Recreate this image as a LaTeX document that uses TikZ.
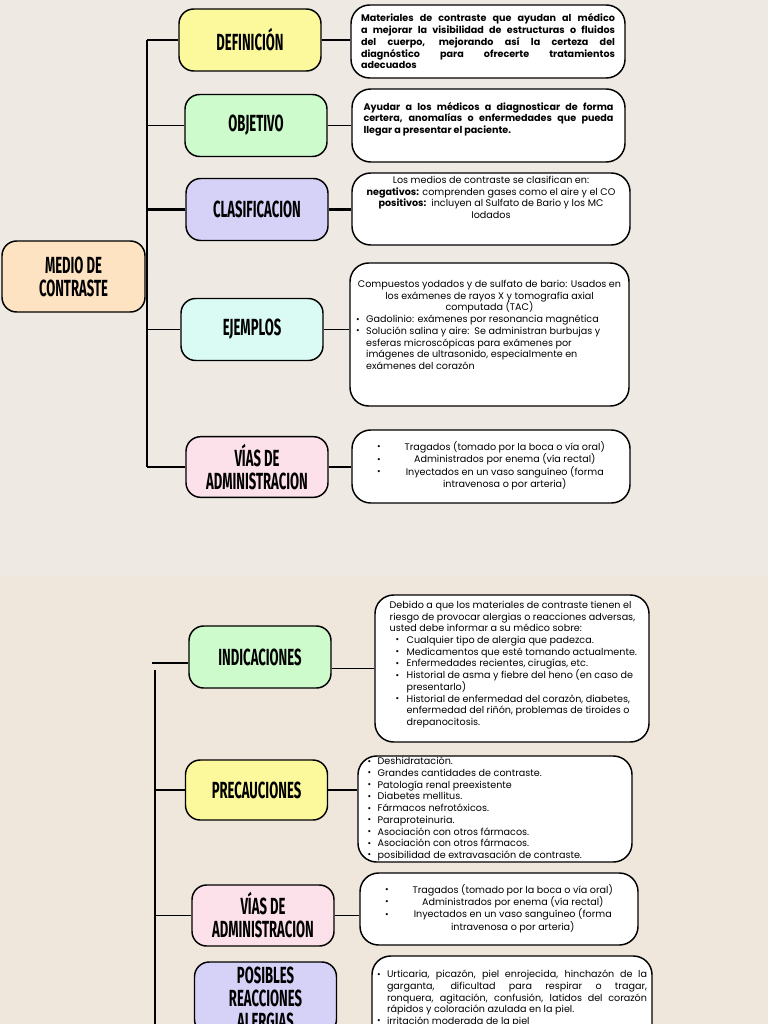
\documentclass[tikz,border=0pt]{standalone}
\usepackage{fontspec}
\usepackage{graphicx}
\setmainfont{Poppins}
\newfontfamily\headfont{Fira Sans}
\definecolor{topbg}{HTML}{EEEAE3}
\definecolor{botbg}{HTML}{EFE6DC}
\definecolor{peach}{HTML}{FDE3C2}
\definecolor{lemon}{HTML}{FBF99C}
\definecolor{mint}{HTML}{CDFBCB}
\definecolor{lilac}{HTML}{D6D1F7}
\definecolor{aqua}{HTML}{DAFBF4}
\definecolor{rosa}{HTML}{FDE1EA}
\newcommand\hd[1]{\scalebox{0.56}[1]{#1}}
\newcommand\bul{\raisebox{0.4pt}{\fontsize{6.5}{6.5}\selectfont\textbullet}}
\newcommand\itm{\par\hangindent=7.5pt\hangafter=1\noindent\makebox[7.5pt][l]{\bul}}
\newcommand\itmi{\par\hangindent=12.75pt\hangafter=1\noindent\hspace*{4.5pt}\makebox[8.25pt][l]{\bul}}
\newcommand\blk[3]{\begin{minipage}[c][#2][t]{#1}#3\end{minipage}}
\tikzset{
  cat/.style={draw,line width=1.1pt,rounded corners=11pt,minimum width=106.5pt,minimum height=46.5pt,inner sep=0pt,align=center,
    font={\headfont\bfseries\fontsize{17.5}{17.3}\selectfont}},
  info/.style={draw,line width=1.1pt,fill=white,rounded corners=14pt,inner sep=0pt,
    font={\fontsize{7.2}{8.8}\selectfont}},
  link/.style={line width=1.1pt},
  heavy/.style={line width=2.3pt}
}
\begin{document}
\begin{tikzpicture}[x=0.75pt,y=-0.75pt]
\useasboundingbox (0,0) rectangle (768,1024);
\clip (0,0) rectangle (768,1024);
\fill[topbg] (0,0) rectangle (768,575);
\fill[botbg] (0,575) rectangle (768,1024);
% primera parte
\begin{scope}
\coordinate (ta) at (147,0);
\node[cat,fill=peach,minimum width=107.25pt,minimum height=53.25pt] (root) at (73.5,276.5) {\hd{MEDIO DE}\\\hd{CONTRASTE}};
\node[cat,fill=lemon] (def) at (250,40) {\hd{DEFINICIÓN}};
\node[cat,fill=mint] (obj) at (256,125.5) {\hd{OBJETIVO}};
\node[cat,fill=lilac] (cla) at (257,209.5) {\hd{CLASIFICACION}};
\node[cat,fill=aqua] (eje) at (252,329.5) {\hd{EJEMPLOS}};
\node[cat,fill=rosa,minimum height=45.5pt] (vias) at (257,467) {\hd{VÍAS DE}\\\hd{ADMINISTRACION}};
\node[info,minimum width=205.5pt,minimum height=54.75pt] (def-t) at (488,41.5) {\begin{minipage}{190.5pt}\bfseries
Materiales de contraste que ayudan al médico\linebreak a mejorar la visibilidad de estructuras o fluidos\linebreak del cuerpo, mejorando así la certeza del\linebreak diagnóstico para ofrecerte tratamientos\linebreak adecuados\end{minipage}};
\node[info,minimum width=204.75pt,minimum height=54.75pt] (obj-t) at (488.5,125.5) {\blk{187.5pt}{35.25pt}{\bfseries
Ayudar a los médicos a diagnosticar de forma\linebreak certera, anomalías o enfermedades que pueda\linebreak llegar a presentar el paciente.}};
\node[info,minimum width=208.5pt,minimum height=54pt] (cla-t) at (491,209) {\blk{196.5pt}{49.5pt}{\centering
Los medios de contraste se clasifican en:\\ \textbf{negativos:} comprenden gases como el aire y el CO\\ \textbf{positivos:}\ \ incluyen al Sulfato de Bario y los MC\\ Iodados}};
\node[info,minimum width=209.25pt,minimum height=107.25pt] (eje-t) at (489.5,334.5) {\blk{200pt}{81.75pt}{\raggedright
{\centering Compuestos yodados y de sulfato de bario: Usados en\\ los exámenes de rayos X y tomografía axial\\ computada (TAC)\par}
\itm Gadolinio: exámenes por resonancia magnética
\itm Solución salina y aire:\ \ Se administran burbujas y\newline esferas microscópicas para exámenes por\newline imágenes de ultrasonido, especialmente en\newline exámenes del corazón}};
\node[info,minimum width=208.5pt,minimum height=54.75pt] (vias-t) at (491,466.5) {\begin{tabular}{@{}l@{\hspace{18pt}}c@{}}
\bul & Tragados (tomado por la boca o vía oral)\\
\bul & Administrados por enema (vía rectal)\\
\bul & Inyectados en un vaso sanguíneo (forma\\
 & intravenosa o por arteria)\end{tabular}};
\draw[link] (def.west -| ta) -- (vias.west -| ta);
\draw[link] (root.east) -- (root.east -| ta);
\foreach \n in {def,obj,eje,vias} {
  \draw[link] (\n.west -| ta) -- (\n.west);
  \draw[link] (\n.east) -- (\n.east -| \n-t.west);
}
\draw[heavy] (cla.west -| ta) -- (cla.west);
\draw[heavy] (cla.east) -- (cla.east -| cla-t.west);
\end{scope}
% segunda parte
\begin{scope}
\coordinate (tb) at (155,0);
\coordinate (btop) at (155,670);
\coordinate (bbot) at (155,1040);
\coordinate (b0) at (152,663);
\node[cat,fill=mint] (ind) at (260,657) {\hd{INDICACIONES}};
\node[cat,fill=lemon,minimum height=45pt] (pre) at (256.5,790) {\hd{PRECAUCIONES}};
\node[cat,fill=rosa,minimum height=45.75pt] (vias2) at (263,915.5) {\hd{VÍAS DE}\\\hd{ADMINISTRACION}};
\node[cat,fill=lilac,minimum height=54pt] (pos) at (265.5,998) {\hd{POSIBLES}\\\hd{REACCIONES}\\\hd{ALERGIAS}};
\node[info,minimum width=205.5pt,minimum height=110.25pt] (ind-t) at (512,668.5) {\hspace*{4.5pt}\blk{188pt}{101.25pt}{\raggedright
Debido a que los materiales de contraste tienen el\newline riesgo de provocar alergias o reacciones adversas,\newline usted debe informar a su médico sobre:
\itmi Cualquier tipo de alergia que padezca.
\itmi Medicamentos que esté tomando actualmente.
\itmi Enfermedades recientes, cirugías, etc.
\itmi Historial de asma y fiebre del heno (en caso de\newline presentarlo)
\itmi Historial de enfermedad del corazón, diabetes,\newline enfermedad del riñón, problemas de tiroides o\newline drepanocitosis.}};
\node[info,minimum width=205.5pt,minimum height=79.5pt] (pre-t) at (495,809) {\hspace*{5pt}\begin{minipage}[c][70pt][c]{196pt}\raggedright
\itm Deshidratación.
\itm Grandes cantidades de contraste.
\itm Patología renal preexistente
\itm Diabetes mellitus.
\itm Fármacos nefrotóxicos.
\itm Paraproteinuria.
\itm Asociación con otros fármacos.
\itm Asociación con otros fármacos.
\itm posibilidad de extravasación de contraste.\end{minipage}};
\node[info,minimum width=208.5pt,minimum height=54pt] (vias2-t) at (499,909) {\begin{tabular}{@{}l@{\hspace{18pt}}c@{}}
\bul & Tragados (tomado por la boca o vía oral)\\
\bul & Administrados por enema (vía rectal)\\
\bul & Inyectados en un vaso sanguíneo (forma\\
 & intravenosa o por arteria)\end{tabular}};
\node[info,minimum width=210pt,minimum height=75pt] (pos-t) at (512,1006) {\blk{202.5pt}{54pt}{
\itm Urticaria, picazón, piel enrojecida, hinchazón de la\linebreak garganta, dificultad para respirar o tragar,\linebreak ronquera, agitación, confusión, latidos del corazón\linebreak rápidos y coloración azulada en la piel.
\itm irritación moderada de la piel}};
\draw[link] (b0) -- (b0 -| ind.west);
\draw[link] (btop) -- (bbot);
\draw[link] (ind.east |- ind-t.west) -- (ind-t.west);
\foreach \n in {pre,vias2} {
  \draw[link] (\n.west -| tb) -- (\n.west);
  \draw[link] (\n.east) -- (\n.east -| \n-t.west);
}
\end{scope}
\end{tikzpicture}
\end{document}
